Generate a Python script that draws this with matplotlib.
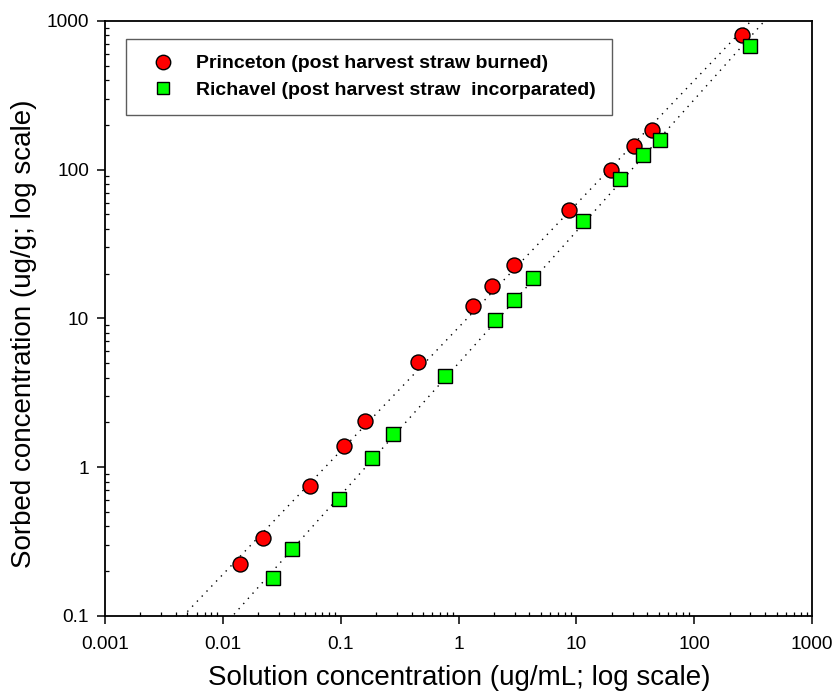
import numpy as np
import matplotlib
matplotlib.use("Agg")
import matplotlib.pyplot as plt
from matplotlib.ticker import LogLocator, FixedLocator, FixedFormatter, NullFormatter

plt.rcParams['font.family'] = ['Liberation Sans', 'DejaVu Sans']

# Data
princeton_x = [0.0140, 0.0221, 0.0545, 0.107, 0.162, 0.450, 1.32, 1.93, 2.97, 8.75, 19.5, 30.8, 44.2, 257]
princeton_y = [0.222, 0.334, 0.746, 1.39, 2.03, 5.10, 12.1, 16.5, 22.8, 53.3, 98.9, 144, 184, 807]
richavel_x = [0.0269, 0.039, 0.0973, 0.1845, 0.278, 0.764, 2.03, 2.93, 4.27, 11.3, 23.7, 37.0, 50.9, 297]
richavel_y = [0.181, 0.281, 0.608, 1.146, 1.66, 4.11, 9.72, 13.3, 18.8, 44.8, 85.7, 125, 159, 673]

labels = ["Princeton (post harvest straw burned)",
          "Richavel (post harvest straw  incorparated)"]
x_ticks = [0.001, 0.01, 0.1, 1, 10, 100, 1000]
x_ticklabels = ["0.001", "0.01", "0.1", "1", "10", "100", "1000"]
y_ticks = [0.1, 1, 10, 100, 1000]
y_ticklabels = ["0.1", "1", "10", "100", "1000"]
xlabel = "Solution concentration (ug/mL; log scale)"
ylabel = "Sorbed concentration (ug/g; log scale)"

fig = plt.figure(figsize=(8.36, 6.91), dpi=100)
ax = fig.add_axes([105/836, 1 - 616/691, (812-105)/836, (616-20.7)/691])
ax.set_xscale('log')
ax.set_yscale('log')
ax.set_xlim(0.001, 1000)
ax.set_ylim(0.1, 1000)

# Freundlich fit lines (log-log linear regression of the data)
xx = np.logspace(-3, 3, 400)
for xs, ys in [(princeton_x, princeton_y), (richavel_x, richavel_y)]:
    n, logk = np.polyfit(np.log10(xs), np.log10(ys), 1)
    ax.plot(xx, 10**logk * xx**n, color='black', lw=1.0,
            linestyle=(0, (1, 4)), zorder=2)

ax.plot(princeton_x, princeton_y, linestyle='none', marker='o', ms=10.8,
        mfc='#ff0000', mec='black', mew=1.0, zorder=3, label=labels[0])
ax.plot(richavel_x, richavel_y, linestyle='none', marker='s', ms=9.4,
        mfc='#00ff00', mec='black', mew=1.0, zorder=3, label=labels[1])

for s in ax.spines.values():
    s.set_linewidth(1.3)

ax.xaxis.set_major_locator(FixedLocator(x_ticks))
ax.xaxis.set_major_formatter(FixedFormatter(x_ticklabels))
ax.yaxis.set_major_locator(FixedLocator(y_ticks))
ax.yaxis.set_major_formatter(FixedFormatter(y_ticklabels))
ax.xaxis.set_minor_locator(LogLocator(base=10, subs=np.arange(2, 10), numticks=20))
ax.yaxis.set_minor_locator(LogLocator(base=10, subs=np.arange(2, 10), numticks=20))
ax.xaxis.set_minor_formatter(NullFormatter())
ax.yaxis.set_minor_formatter(NullFormatter())
ax.tick_params(which='major', direction='out', length=5.5, width=1.1,
               labelsize=13.7, top=False, right=False)
ax.tick_params(which='minor', direction='in', length=3.2, width=0.9,
               top=False, right=False)
ax.tick_params(axis='x', which='major', pad=9)
ax.tick_params(axis='y', which='major', pad=6)

fig.text(459.5/836, 1 - 685/691, xlabel, fontsize=20, ha='center', va='baseline')
fig.text(24/836, 1 - 333.5/691, ylabel, fontsize=20, rotation=90,
         ha='center', va='center')

leg = ax.legend(loc='upper left', bbox_to_anchor=(126/836, 1 - 38.7/691),
                bbox_transform=fig.transFigure, frameon=True, fancybox=False,
                shadow=False, prop={'weight': 'bold', 'size': 14},
                borderpad=0.83, handlelength=2.12, handletextpad=0.65,
                labelspacing=0.44, borderaxespad=0, numpoints=1)
leg.get_frame().set_edgecolor('#333333')
leg.get_frame().set_linewidth(1.0)
leg.legend_handles[0].set_markersize(10.4)
leg.legend_handles[1].set_markersize(9.0)

fig.savefig('out.png', dpi=100)
